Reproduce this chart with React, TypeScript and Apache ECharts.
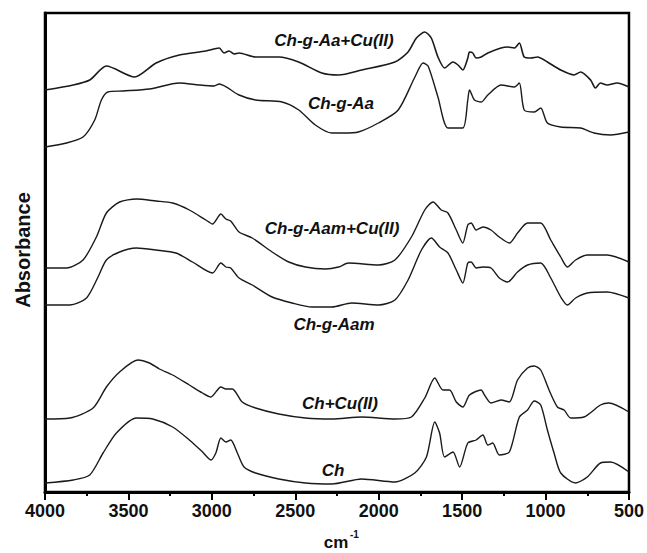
import React, { useEffect, useRef } from "react";
import * as echarts from "echarts";

// FTIR spectra, [wavenumber (cm-1), absorbance (offset, a.u.)]
const chGAaCu: [number, number][] = [
  [4000, 4.02], [3831, 4.07], [3732, 4.12], [3632, 4.26], [3463, 4.15], [3334, 4.29],
  [3195, 4.37], [3036, 4.41], [2956, 4.44], [2927, 4.39], [2897, 4.41], [2867, 4.38],
  [2837, 4.39], [2738, 4.35], [2599, 4.35], [2480, 4.30], [2341, 4.19], [2241, 4.17],
  [2102, 4.22], [1903, 4.30], [1824, 4.40], [1774, 4.54], [1724, 4.60], [1685, 4.54],
  [1645, 4.35], [1605, 4.24], [1555, 4.30], [1525, 4.27], [1496, 4.22], [1466, 4.34],
  [1456, 4.40], [1436, 4.39], [1416, 4.34], [1386, 4.35], [1346, 4.39], [1267, 4.44],
  [1227, 4.45], [1187, 4.44], [1157, 4.49], [1128, 4.35], [1088, 4.34], [1048, 4.35],
  [989, 4.30], [909, 4.22], [829, 4.17], [790, 4.20], [730, 4.12], [701, 4.04],
  [671, 4.09], [631, 4.07], [571, 4.09], [500, 4.05],
];

const chGAa: [number, number][] = [
  [4000, 3.45], [3871, 3.49], [3772, 3.55], [3702, 3.72], [3662, 3.92], [3623, 4.00],
  [3533, 4.01], [3374, 4.03], [3195, 4.09], [3076, 4.07], [2986, 4.06], [2956, 4.08],
  [2837, 3.97], [2738, 3.92], [2579, 3.90], [2479, 3.82], [2380, 3.67], [2281, 3.59],
  [2211, 3.59], [2122, 3.60], [2002, 3.69], [1883, 3.82], [1783, 4.15], [1734, 4.29],
  [1704, 4.26], [1645, 3.95], [1585, 3.64], [1496, 3.64], [1466, 3.92], [1456, 4.02],
  [1426, 3.92], [1386, 3.90], [1346, 3.97], [1267, 4.07], [1187, 4.05], [1157, 4.09],
  [1128, 3.82], [1068, 3.80], [1029, 3.84], [989, 3.69], [909, 3.65], [790, 3.64],
  [710, 3.59], [611, 3.57], [500, 3.60],
];

const chGAamCu: [number, number][] = [
  [4000, 2.24], [3871, 2.24], [3772, 2.32], [3692, 2.55], [3632, 2.79], [3553, 2.90],
  [3453, 2.93], [3334, 2.91], [3235, 2.89], [3135, 2.82], [3036, 2.72], [2996, 2.68],
  [2946, 2.78], [2916, 2.73], [2887, 2.71], [2837, 2.60], [2758, 2.54], [2639, 2.40],
  [2539, 2.30], [2439, 2.25], [2320, 2.23], [2241, 2.25], [2181, 2.29], [2002, 2.27],
  [1903, 2.32], [1804, 2.55], [1724, 2.82], [1674, 2.90], [1625, 2.82], [1585, 2.79],
  [1535, 2.62], [1496, 2.49], [1466, 2.67], [1446, 2.69], [1416, 2.62], [1376, 2.65],
  [1327, 2.62], [1277, 2.55], [1217, 2.49], [1168, 2.59], [1108, 2.69], [1029, 2.69],
  [969, 2.52], [909, 2.35], [869, 2.25], [820, 2.32], [750, 2.37], [631, 2.37],
  [500, 2.30],
];

const chGAam: [number, number][] = [
  [4000, 1.87], [3851, 1.87], [3751, 1.94], [3682, 2.15], [3632, 2.32], [3553, 2.40],
  [3453, 2.44], [3334, 2.42], [3215, 2.39], [3116, 2.30], [2996, 2.19], [2946, 2.29],
  [2916, 2.25], [2887, 2.24], [2837, 2.14], [2758, 2.07], [2639, 1.95], [2519, 1.89],
  [2400, 1.85], [2281, 1.85], [2162, 1.89], [2002, 1.87], [1903, 1.92], [1824, 2.12],
  [1744, 2.42], [1684, 2.54], [1635, 2.45], [1585, 2.39], [1535, 2.22], [1496, 2.09],
  [1466, 2.29], [1446, 2.30], [1416, 2.24], [1376, 2.25], [1327, 2.24], [1277, 2.14],
  [1227, 2.10], [1168, 2.20], [1108, 2.27], [1029, 2.29], [969, 2.14], [909, 1.95],
  [869, 1.87], [820, 1.94], [750, 1.99], [631, 2.00], [500, 1.94],
];

const chCu: [number, number][] = [
  [4000, 0.73], [3851, 0.74], [3712, 0.84], [3632, 1.05], [3553, 1.20], [3444, 1.32],
  [3374, 1.29], [3314, 1.23], [3235, 1.17], [3135, 1.07], [3056, 0.99], [3006, 0.95],
  [2946, 1.05], [2916, 1.03], [2877, 1.03], [2818, 0.90], [2738, 0.84], [2599, 0.78],
  [2439, 0.74], [2281, 0.73], [2102, 0.75], [1903, 0.73], [1804, 0.75], [1724, 0.94],
  [1664, 1.14], [1615, 1.02], [1575, 1.02], [1535, 0.90], [1496, 0.85], [1456, 0.97],
  [1386, 1.02], [1366, 0.97], [1327, 0.89], [1267, 0.92], [1217, 0.90], [1168, 1.12],
  [1108, 1.24], [1068, 1.26], [1029, 1.22], [979, 1.02], [929, 0.85], [889, 0.82],
  [850, 0.74], [770, 0.75], [671, 0.87], [621, 0.89], [500, 0.80],
];

const ch: [number, number][] = [
  [4000, 0.09], [3831, 0.12], [3732, 0.17], [3652, 0.39], [3572, 0.59], [3453, 0.74],
  [3354, 0.73], [3235, 0.65], [3135, 0.52], [3056, 0.40], [3006, 0.32], [2976, 0.39],
  [2946, 0.54], [2916, 0.50], [2887, 0.52], [2847, 0.39], [2807, 0.25], [2738, 0.19],
  [2599, 0.13], [2439, 0.09], [2281, 0.08], [2102, 0.13], [1903, 0.10], [1784, 0.19],
  [1714, 0.35], [1664, 0.70], [1635, 0.59], [1605, 0.35], [1555, 0.40], [1515, 0.25],
  [1466, 0.49], [1416, 0.52], [1376, 0.57], [1346, 0.47], [1317, 0.49], [1277, 0.37],
  [1217, 0.40], [1157, 0.75], [1108, 0.82], [1068, 0.91], [1029, 0.87], [989, 0.62],
  [949, 0.39], [909, 0.19], [820, 0.09], [750, 0.15], [671, 0.29], [611, 0.30],
  [500, 0.20],
];

const seriesNames = ["Ch-g-Aa+Cu(II)", "Ch-g-Aa", "Ch-g-Aam+Cu(II)", "Ch-g-Aam", "Ch+Cu(II)", "Ch"];
const seriesData = [chGAaCu, chGAa, chGAamCu, chGAam, chCu, ch];

const FONT = "'Liberation Sans', Arial, Helvetica, sans-serif";

// where each spectrum's name sits on the canvas
const nameSpots: [number, number][] = [
  [334, 40], [341, 103], [332, 228], [334, 324], [340, 403], [333, 470],
];

export default function App() {
  const ref = useRef<HTMLDivElement>(null);

  useEffect(() => {
    document.body.style.margin = "0";
    if (!ref.current) return;
    const chart = echarts.init(ref.current, null, { renderer: "svg" });

    const nameTexts = seriesNames.map((n, i) => ({
      type: "text",
      x: nameSpots[i][0],
      y: nameSpots[i][1],
      style: {
        text: n,
        fill: "#111",
        font: `italic bold 17px ${FONT}`,
        textAlign: "center",
        textVerticalAlign: "middle",
      },
    }));

    chart.setOption({
      animation: false,
      backgroundColor: "#fff",
      grid: {
        left: 45,
        right: 15,
        top: 13,
        bottom: 61,
        show: true,
        borderColor: "#000",
        borderWidth: 2.5,
        backgroundColor: "transparent",
      },
      xAxis: {
        type: "value",
        min: 500,
        max: 4000,
        interval: 500,
        inverse: true,
        axisLine: { show: true, onZero: false, lineStyle: { color: "#000", width: 3 } },
        axisTick: { show: true, inside: false, length: 8, lineStyle: { color: "#000", width: 2 } },
        minorTick: { show: true, splitNumber: 2, length: 4, lineStyle: { color: "#000", width: 2 } },
        axisLabel: {
          color: "#111",
          fontSize: 18,
          fontWeight: "bold",
          fontFamily: FONT,
          margin: 10,
          formatter: (v: number) => String(v),
        },
        splitLine: { show: false },
      },
      yAxis: {
        type: "value",
        min: 0,
        max: 4.79,
        axisLine: { show: true, lineStyle: { color: "#000", width: 3 } },
        axisTick: { show: false },
        axisLabel: { show: false },
        splitLine: { show: false },
      },
      series: seriesData.map((d, i) => ({
        name: seriesNames[i],
        type: "line",
        data: d,
        smooth: 0.25,
        showSymbol: false,
        lineStyle: { color: "#1a1a1a", width: i === 0 ? 1.6 : 1.4 },
      })),
      graphic: [
        ...nameTexts,
        {
          type: "text",
          x: 23,
          y: 250,
          rotation: Math.PI / 2,
          style: {
            text: "Absorbance",
            fill: "#111",
            font: `bold 20px ${FONT}`,
            textAlign: "center",
            textVerticalAlign: "middle",
          },
        },
        {
          type: "text",
          x: 336,
          y: 542,
          style: {
            text: "cm",
            fill: "#111",
            font: `bold 17px ${FONT}`,
            textAlign: "center",
            textVerticalAlign: "middle",
          },
        },
        {
          type: "text",
          x: 350,
          y: 534,
          style: {
            text: "-1",
            fill: "#111",
            font: `bold 10px ${FONT}`,
            textAlign: "left",
            textVerticalAlign: "middle",
          },
        },
      ],
    });

    return () => chart.dispose();
  }, []);

  return <div ref={ref} style={{ width: 647, height: 553 }} />;
}
